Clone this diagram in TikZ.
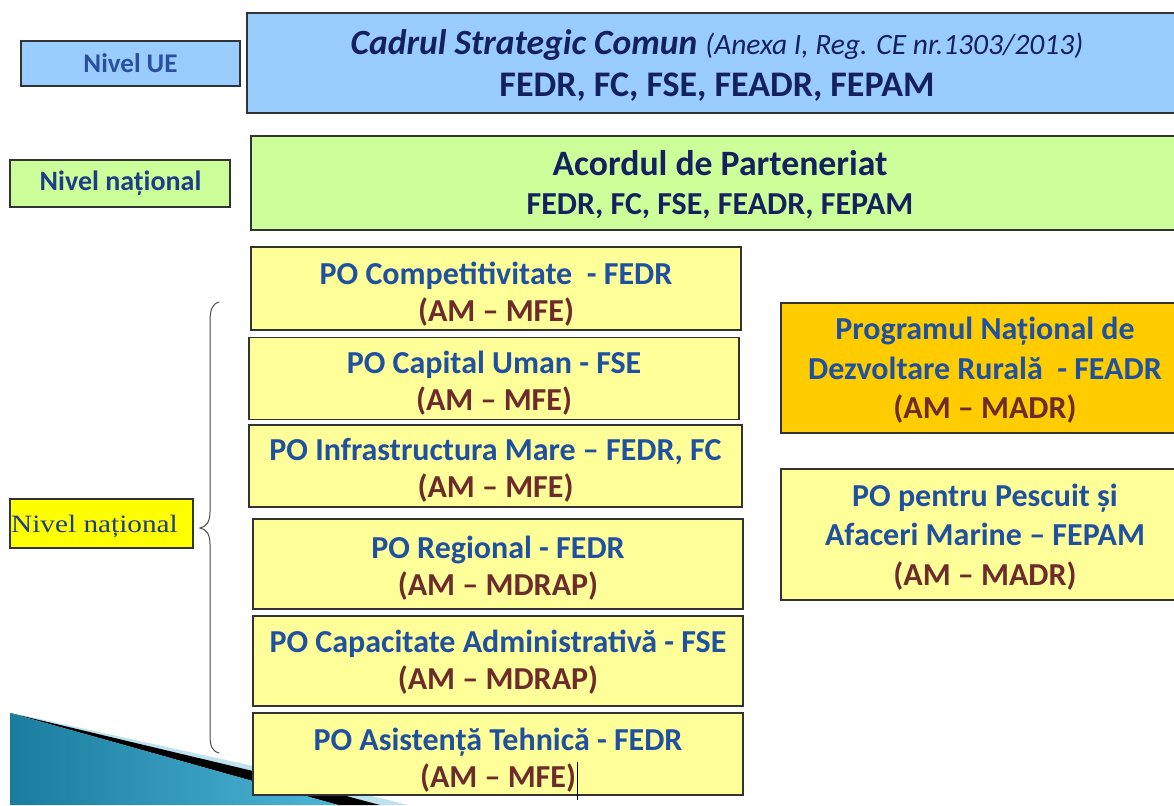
\documentclass[tikz,border=0pt]{standalone}
\usepackage{fontspec}
\setmainfont{Carlito}
\newfontfamily\timesf{Liberation Serif}
\usepackage{graphicx}
\usetikzlibrary{calc}
\definecolor{boxline}{HTML}{333333}
\definecolor{fillblue}{HTML}{99CCFF}
\definecolor{fillgreen}{HTML}{CCFF99}
\definecolor{fillyel}{HTML}{FFFF99}
\definecolor{fillorange}{HTML}{FFCC00}
\definecolor{fillbright}{HTML}{FFFF00}
\definecolor{navy}{HTML}{14215E}
\definecolor{poblue}{HTML}{2050A0}
\definecolor{ambrown}{HTML}{6E2B2B}
\definecolor{lvlblue}{HTML}{2B4F9E}
\definecolor{lvlnavy}{HTML}{1F3C88}
\definecolor{decoA}{HTML}{1A7C9E}
\definecolor{decoB}{HTML}{4DB6D6}
\definecolor{decoL}{HTML}{BFE3EE}
\newcommand{\am}[1]{\textcolor{ambrown}{#1}}
\begin{document}
\begin{tikzpicture}[x=1pt,y=-1pt,
  box/.style={draw=boxline, line width=1.2pt, inner sep=0pt, outer sep=0pt},
  potxt/.style={align=center, inner sep=0pt, text=poblue, font=\bfseries\fontsize{32}{37}\selectfont},
  rtxt/.style={align=center, inner sep=0pt, text=poblue, font=\bfseries\fontsize{32}{39.5}\selectfont},
  lvltxt/.style={inner sep=0pt, font=\bfseries\fontsize{27}{32}\selectfont}]
\useasboundingbox (0,0) rectangle (1174,805);
\fill[white] (0,0) rectangle (1174,805);

% decoration bottom left
\fill[decoL] (22,715) -- (253,766) -- (408,805) -- (380,805) -- (253,771) -- (10,713) -- cycle;
\fill[black] (10,713) -- (253,771) -- (380,805) -- (338,805) -- cycle;
\shade[left color=decoA, right color=decoB] (10,713) -- (338,805) -- (10,805) -- cycle;

% level labels
\node[box, fill=fillblue, minimum width=219pt, minimum height=45pt] (ue) at (130.5,63.5) {};
\node[lvltxt, text=lvlblue] (uet) at (ue.center) {Nivel UE};
\node[box, fill=fillgreen, minimum width=220pt, minimum height=47pt] (nn) at (120,183.5) {};
\node[lvltxt, text=lvlnavy, font=\bfseries\fontsize{28}{32}\selectfont] (nnt) at ($(nn.center)+(0.5,0)$) {Nivel național};
\node[box, fill=fillbright, minimum width=183pt, minimum height=49pt] (nn2) at (101.5,523.5) {};
\node[inner sep=0pt, text=lvlnavy, font=\timesf\fontsize{25}{30}\selectfont] (nn2t) at ($(nn2.center)+(-7,3)$) {\scalebox{1.17}[1]{Nivel național}};

% top boxes
\node[box, fill=fillblue, minimum width=940pt, minimum height=100pt] (csc) at (717,63) {};
\node[align=center, inner sep=0pt, text=navy, font=\bfseries\fontsize{35.5}{42}\selectfont] (csct) at ($(csc.center)+(0,2.5)$)
  {\textit{Cadrul Strategic Comun} {\fontsize{29.5}{42}\selectfont\mdseries\itshape (Anexa I, Reg. CE nr.1303/2013)}\\{\fontsize{36}{42}\selectfont FEDR, FC, FSE, FEADR, FEPAM}};
\node[box, fill=fillgreen, minimum width=938pt, minimum height=94pt] (ap) at (720,183) {};
\node[align=center, inner sep=0pt, text=navy, font=\bfseries\fontsize{35.7}{39}\selectfont] (apt) at ($(ap.center)+(0,2)$)
  {Acordul de Parteneriat\\{\fontsize{32}{39}\selectfont FEDR, FC, FSE, FEADR, FEPAM}};

% PO boxes
\node[box, fill=fillyel, minimum width=490pt, minimum height=83pt] (po1) at (496,288.5) {};
\node[potxt] (po1t) at ($(po1.center)+(0,6)$) {PO Competitivitate\ \ - FEDR\\\am{(AM – MFE)}};
\node[box, fill=fillyel, minimum width=490pt, minimum height=81.5pt] (po2) at (494,378.5) {};
\node[potxt] (po2t) at ($(po2.center)+(0,5)$) {PO Capital Uman - FSE\\\am{(AM – MFE)}};
\node[box, fill=fillyel, minimum width=493pt, minimum height=82pt] (po3) at (495.5,466) {};
\node[potxt] (po3t) at ($(po3.center)+(0,4.5)$) {PO Infrastructura Mare – FEDR, FC\\\am{(AM – MFE)}};
\node[box, fill=fillyel, minimum width=490pt, minimum height=90pt] (po4) at (498,564) {};
\node[potxt] (po4t) at ($(po4.center)+(0,4.5)$) {PO Regional - FEDR\\\am{(AM – MDRAP)}};
\node[box, fill=fillyel, minimum width=490pt, minimum height=90pt] (po5) at (498,661) {};
\node[potxt] (po5t) at ($(po5.center)+(0,1.5)$) {PO Capacitate Administrativă - FSE\\\am{(AM – MDRAP)}};
\node[box, fill=fillyel, minimum width=490pt, minimum height=82pt] (po6) at (498,754) {};
\node[potxt] (po6t) at ($(po6.center)+(0,6.5)$) {PO Asistență Tehnică - FEDR\\\am{(AM – MFE)}};

% right boxes
\node[box, fill=fillorange, minimum width=408pt, minimum height=130pt] (pndr) at (985,368) {};
\node[rtxt] (pndrt) at ($(pndr.center)+(0,2.3)$) {Programul Național de\\Dezvoltare Rurală\ \ - FEADR\\\am{(AM – MADR)}};
\node[box, fill=fillyel, minimum width=408pt, minimum height=131pt] (pesc) at (985,534.5) {};
\node[rtxt] (pesct) at ($(pesc.center)+(0,2.5)$) {PO pentru Pescuit și\\Afaceri Marine – FEPAM\\\am{(AM – MADR)}};

% brace
\draw[color=black!70, line width=1pt, line cap=round]
  (219,302) .. controls (212,304) and (210,310) .. (210,322) -- (210,512)
  .. controls (210,522) and (206,527) .. (200,528)
  .. controls (206,529) and (210,534) .. (210,544) -- (210,735)
  .. controls (210,746) and (212,751) .. (219,753);

% text cursor
\draw[line width=0.8pt] (577,762) -- (577,800);
\end{tikzpicture}
\end{document}
